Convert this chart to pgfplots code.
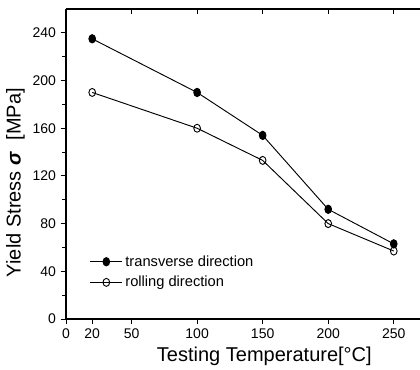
\documentclass[border=0pt]{standalone}
\usepackage{fontspec}
\setmainfont{Liberation Sans}
\usepackage{pgfplots}
\pgfplotsset{compat=1.18}
\begin{document}
\begin{tikzpicture}
\begin{axis}[
  name=ax,
  scale only axis,
  width=265.5pt, height=232.5pt,
  xmin=0, xmax=270, ymin=0, ymax=260,
  axis x line*=bottom, axis y line*=left,
  xtick={0,20,50,100,150,200,250},
  ytick={0,40,...,240},
  minor y tick num=1,
  tick align=outside,
  major tick length=4pt, minor tick length=3pt,
  tick style={black, line width=0.7pt},
  axis line style={line width=0.8pt},
  /pgf/number format/assume math mode=true,
  tick label style={font=\fontsize{10.5pt}{12pt}\selectfont},
  xlabel={Testing Temperature[°C]},
  ylabel={Yield Stress \textbf{\textit{σ}}\ \ [MPa]},
  label style={font=\fontsize{15pt}{17pt}\selectfont},
  xlabel style={yshift=1pt, xshift=16pt},
  ylabel style={yshift=-1pt, xshift=-14pt},
  legend style={draw=none, fill=none, at={(axis cs:15,58)}, anchor=north west,
    font=\fontsize{11pt}{13pt}\selectfont, row sep=2pt},
  legend cell align=left,
  legend image code/.code={
    \draw[mark repeat=2, mark phase=2, #1] plot coordinates {(0cm,0cm) (0.42cm,0cm) (0.84cm,0cm)};
  },
]
\addplot[black, line width=0.7pt, mark=*, mark size=2.5pt, mark options={fill=black, yscale=1.25}]
  coordinates {(20,235) (100,190) (150,154) (200,92) (250,63)};
\addlegendentry{transverse direction}
\addplot[black, line width=0.7pt, mark=o, mark size=2.5pt, mark options={fill=white, line width=0.7pt, yscale=1.2}]
  coordinates {(20,190) (100,160) (150,133) (200,80) (250,57)};
\addlegendentry{rolling direction}
\end{axis}
\begin{axis}[
  scale only axis,
  width=265.5pt, height=232.5pt,
  xmin=0, xmax=270, ymin=0, ymax=260,
  axis x line*=top, hide y axis,
  xtick={50,100,150,200,250}, xticklabels={},
  tick align=inside, major tick length=4pt,
  tick style={black, line width=0.7pt},
  axis line style={line width=0.8pt},
]
\addplot[draw=none] coordinates {(0,0)};
\end{axis}
\pgfresetboundingbox
\path ([shift={(-49.5pt,-38.25pt)}]ax.south west) rectangle ([shift={(0pt,6.75pt)}]ax.north east);
\end{tikzpicture}
\end{document}
